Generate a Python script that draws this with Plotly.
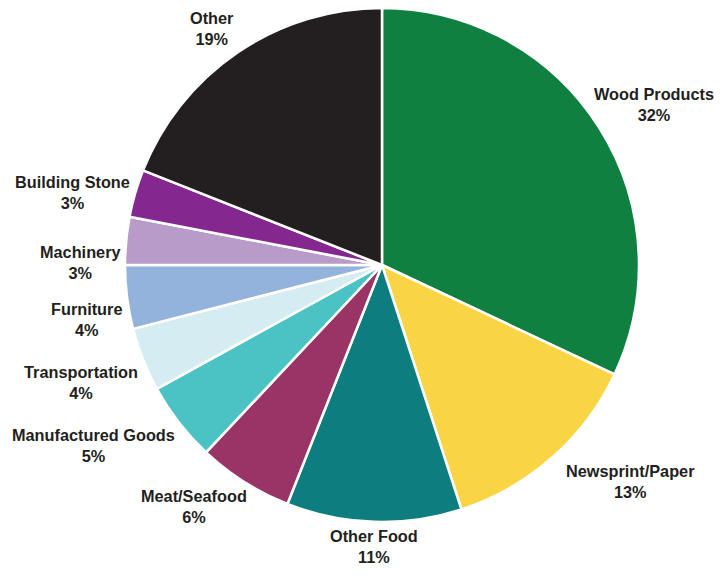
import math
import plotly.graph_objects as go

categories = ["Wood Products", "Newsprint/Paper", "Other Food", "Meat/Seafood",
              "Manufactured Goods", "Transportation", "Furniture", "Machinery",
              "Building Stone", "Other"]
shares = [32, 13, 11, 6, 5, 4, 4, 3, 3, 19]
colors = ["#0f8040", "#f9d546", "#0e7d80", "#9a3466", "#4bc3c5",
          "#d4ecf2", "#94b3dc", "#b89bc9", "#84278f", "#231f20"]

W, H = 727, 575
cx, cy, r = 374, 257, 257  # pie centre and radius in figure pixels

fig = go.Figure()
fig.add_trace(go.Pie(
    labels=categories,
    values=shares,
    sort=False,
    direction="clockwise",
    rotation=0,
    marker=dict(colors=colors, line=dict(color="white", width=2.5)),
    textinfo="none",
    hoverinfo="label+percent",
    showlegend=False,
    domain=dict(x=[(cx - r) / W, (cx + r) / W],
                y=[1 - (cy + r) / H, 1 - (cy - r) / H]),
))

# labels sit just outside each slice, anchored on the corner nearest the pie
# (small horizontal nudges keep them clear of the edge / closer to the reference)
nudge = {"Wood Products": -10, "Newsprint/Paper": 10, "Meat/Seafood": 6}
total = sum(shares)
start = 0
label_r = 260
for name, v in zip(categories, shares):
    mid = (start + v / 2) / total * 2 * math.pi
    start += v
    s, c = math.sin(mid), math.cos(mid)
    xa = "left" if s > 0.3 else ("right" if s < -0.3 else "center")
    ya = "bottom" if c > 0.5 else ("middle" if c > 0.2 else "top")
    px = cx + label_r * s + nudge.get(name, 0)
    py = cy - label_r * c
    fig.add_annotation(
        x=px / W, y=1 - py / H, xref="paper", yref="paper",
        xanchor=xa, yanchor=ya, showarrow=False, align="center",
        text="<b>%s</b><br><b>%d%%</b>" % (name, round(v / total * 100)),
        font=dict(family="Liberation Sans, Arial", size=16.3, color="#231f20"),
    )

fig.update_layout(
    width=W, height=H,
    margin=dict(l=0, r=0, t=0, b=0),
    paper_bgcolor="white",
    plot_bgcolor="white",
)

fig.write_html("out.html")
